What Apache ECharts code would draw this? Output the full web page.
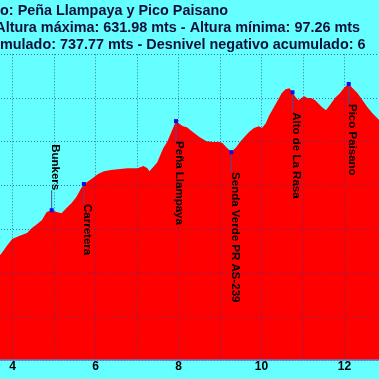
<!DOCTYPE html>
<html>
<head>
<meta charset="utf-8">
<script src="https://cdn.jsdelivr.net/npm/echarts@6/dist/echarts.min.js"></script>
<style>
html,body{margin:0;padding:0;background:#66ffff;overflow:hidden;width:379px;height:379px;position:relative;}
#chart{position:absolute;left:-32px;top:0;width:421px;height:379px;}
</style>
</head>
<body>
<div id="chart"></div>
<script>
// Profile: distance (km) and elevation (m)
const distKm = [3.64,3.755,3.874,3.993,4.159,4.35,4.468,4.587,4.706,4.825,4.944,5.063,5.182,5.3,5.42,5.539,5.657,5.729,5.895,6.062,6.204,6.371,6.537,6.775,7.013,7.156,7.251,7.298,7.393,7.489,7.56,7.631,7.726,7.798,7.869,7.94,8.036,8.107,8.202,8.345,8.511,8.678,8.82,8.987,9.058,9.153,9.272,9.391,9.462,9.581,9.7,9.819,9.938,10.01,10.105,10.176,10.247,10.342,10.485,10.58,10.675,10.747,10.818,10.89,10.96,11.032,11.104,11.198,11.294,11.365,11.46,11.555,11.65,11.769,11.888,12.007,12.102,12.197,12.316,12.435,12.554,12.673,12.768,12.91];
const elevM = [233,247,263,277,284,291,302,311,320,339,343,339,336,348,359,373,394,403,414,426,432,435,437,439,439,444,439,432,442,453,469,485,499,515,531,547,540,535,533,522,510,501,499,499,497,487,476,487,497,510,522,531,535,531,542,558,570,586,611,620,622,613,602,595,600,604,600,600,595,588,579,572,584,600,611,625,632,622,611,595,579,565,556,542];

// Waypoints
const wpNames = ['Bunkers','Carretera','Peña Llampaya','Senda Verde PR AS-239','Alto de La Rasa','Pico Paisano'];
const wpKm = [4.944,5.72,7.94,9.272,10.747,12.102];
const wpElev = [343,403,547,476,613,632];
const wpSide = [-1,1,1,1,1,1]; // -1 label above, 1 label below

// Axis ticks
const xMin = 3, xMax = 13, xStep = 1;
const yMin = 0, yMax = 700, yStep = 100;

// Title lines
const title1 = 'Recorrido: Peña Llampaya y Pico Paisano';
const title2 = 'Distancia: 13.85 km - Altura máxima: 631.98 mts - Altura mínima: 97.26 mts';
const title3a = 'Desnivel positivo acu';
const title3b = 'mulado: 737.77 mts - Desnivel negativo acumulado: 6';

const SHIFT = 32; // chart canvas is offset left by this many px
const FONT = '"Liberation Sans", Arial, sans-serif';
const titleFont = 'bold 14.4px ' + FONT;
const mctx = document.createElement('canvas').getContext('2d');
mctx.font = titleFont;
const w3a = mctx.measureText(title3a).width;

const chart = echarts.init(document.getElementById('chart'));
const profile = distKm.map((d, i) => [d, elevM[i]]);
const wps = wpKm.map((d, i) => [d, wpElev[i], i]);

chart.setOption({
  backgroundColor: '#66ffff',
  animation: false,
  grid: { left: 0, right: 0, top: 54.3, bottom: 19 },
  xAxis: {
    type: 'value', min: xMin, max: xMax, interval: xStep, z: 3,
    axisLine: { show: true, lineStyle: { color: '#6a78c8', width: 1.5 } },
    axisTick: { show: false },
    axisLabel: {
      color: '#000', fontWeight: 'bold', fontSize: 12, fontFamily: FONT, margin: 1,
      formatter: v => (v % 2 === 0 ? String(v) : '')
    },
    splitLine: { show: true, lineStyle: { color: '#2a3f9a', type: [1, 2], width: 1, opacity: 0.75 } }
  },
  yAxis: {
    type: 'value', min: yMin, max: yMax, interval: yStep, z: 3,
    axisLine: { show: false }, axisTick: { show: false },
    axisLabel: { show: false },
    splitLine: { show: true, lineStyle: { color: '#2a3f9a', type: [1, 2], width: 1, opacity: 0.75 } }
  },
  graphic: [
    { type: 'text', x: 228 + SHIFT, y: 11, style: { text: title1, font: titleFont, fill: '#10103a', textAlign: 'right', textVerticalAlign: 'middle' } },
    { type: 'text', x: 360 + SHIFT, y: 28, style: { text: title2, font: titleFont, fill: '#10103a', textAlign: 'right', textVerticalAlign: 'middle' } },
    { type: 'text', x: SHIFT - w3a, y: 45, style: { text: title3a + title3b, font: titleFont, fill: '#10103a', textAlign: 'left', textVerticalAlign: 'middle' } }
  ],
  series: [
    {
      type: 'line', data: profile, symbol: 'none', smooth: false, z: 1,
      lineStyle: { width: 0, color: '#ff0000' },
      areaStyle: { color: '#ff0000', opacity: 1 }
    },
    {
      type: 'custom', data: wps, z: 5,
      renderItem: function (params, api) {
        const p = api.coord([api.value(0), api.value(1)]);
        const i = api.value(2);
        const side = wpSide[i];
        const gap = 20;
        const ty = p[1] + side * gap;
        return {
          type: 'group',
          children: [
            { type: 'line', shape: { x1: p[0], y1: p[1], x2: p[0], y2: ty }, style: { stroke: '#4a4a9a', lineWidth: 1 } },
            { type: 'rect', shape: { x: p[0] - 2, y: p[1] - 2, width: 4, height: 4 }, style: { fill: '#1010e0' } },
            {
              type: 'text', x: p[0] + 3.5, y: ty, rotation: -Math.PI / 2,
              style: {
                text: wpNames[i], font: 'bold 11.5px ' + FONT, fill: '#000',
                textAlign: side > 0 ? 'left' : 'right', textVerticalAlign: 'middle'
              }
            }
          ]
        };
      }
    }
  ]
});
</script>
</body>
</html>
